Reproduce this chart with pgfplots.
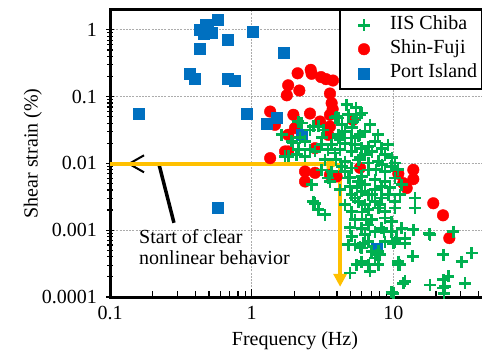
\documentclass[border=0pt]{standalone}
\usepackage{fontspec}
\setmainfont{Liberation Serif}
\usepackage{pgfplots}
\pgfplotsset{compat=1.18}
\usepackage{pgfplotstable}
\usetikzlibrary{arrows.meta}
\definecolor{cgreen}{HTML}{00B050}
\definecolor{cred}{HTML}{FF0000}
\definecolor{cblue}{HTML}{0070C0}
\definecolor{corange}{HTML}{FFC000}
\newcommand\ff{\fontsize{20bp}{24bp}\selectfont}

\pgfplotstableread{
x y
4.69 0.0754
5.98 0.0566
4.81 0.0534
4.09 0.0476
5.22 0.0423
2.25 0.0401
2.95 0.0357
2.58 0.0318
4.56 0.0300
4.09 0.0268
5.66 0.0253
1.92 0.0213
2.38 0.0213
3.12 0.0190
3.67 0.0190
4.56 0.0201
6.66 0.0179
2.13 0.0160
2.80 0.0151
3.88 0.0143
5.08 0.0151
6.31 0.0135
8.73 0.0135
1.81 0.0127
2.38 0.0127
5.66 0.0113
7.83 0.0107
9.75 0.0090
3.12 0.0080
5.08 0.0085
6.66 0.0080
8.73 0.00756
3.47 0.00602
4.81 0.00602
5.98 0.00637
7.43 0.00568
10.29 0.00602
2.65 0.00478
4.95 0.00451
6.31 0.00478
8.28 0.00451
5.08 0.00339
6.66 0.00339
9.21 0.00339
2.80 0.00254
5.66 0.00269
7.43 0.00269
10.29 0.00269
2.95 0.00202
3.29 0.00170
5.08 0.00190
6.66 0.00202
8.73 0.00190
5.37 0.00143
7.04 0.00143
9.75 0.00135
5.98 0.00107
7.43 0.000956
11.46 0.00107
5.08 0.000805
6.66 0.000677
10.29 0.000677
12.10 0.00076
7.83 0.00048
5.98 0.000539
7.43 0.000382
10.85 0.00034
5.98 0.00034
7.83 0.000304
4.95 0.000228
6.85 0.000241
10.0 0.000114
11.76 0.000161
10.85 0.000304
10.0 0.00064
13.84 0.001014
18.16 0.000854
26.5 0.000956
22.5 0.000429
30.4 0.00034
35.8 0.000454
18.16 0.000152
22.5 0.000181
24.4 0.000203
22.5 0.000136
32.1 0.000161
14.24 0.00302
14.24 0.00214
4.81 0.000605
5.82 0.00057
7.63 0.000429
5.51 0.000304
12.10 0.00064
11.15 0.000304
13.71 0.000404
6.14 0.00064
12.10 0.000171
9.75 0.000117
1.72 0.0127
2.08 0.0135
2.58 0.0160
2.65 0.00478
3.57 0.00536
2.72 0.00269
1.96 0.0203
1.63 0.0268
2.13 0.0423
2.72 0.0357
3.20 0.0318
3.98 0.0503
5.51 0.0476
5.82 0.0268
4.07 0.0242
2.19 0.0242
5.82 0.0534
3.88 0.0481
17.95 0.000883
10.57 0.00076
23.2 0.000144
22.8 0.000114
6.31 0.0300
7.43 0.0213
8.28 0.0169
5.08 0.0239
5.98 0.0169
4.56 0.01067
6.66 0.0101
10.29 0.0101
8.73 0.00536
11.46 0.00478
7.43 0.00402
5.98 0.0038
5.37 0.00302
7.83 0.00214
10.29 0.00214
5.66 0.00536
8.28 0.00302
6.31 0.0024
8.73 0.00152
6.66 0.0012
8.28 0.00107
9.75 0.000956
6.31 0.000854
8.73 0.000677
7.04 0.00048
5.37 0.000605
8.05 0.000429
6.66 0.000304
3.29 0.01132
4.32 0.00899
3.67 0.00756
4.34 0.0378
5.11 0.0341
6.85 0.0378
7.80 0.0268
9.17 0.0190
4.20 0.0160
5.37 0.0190
7.07 0.0149
9.79 0.01213
4.56 0.00748
5.82 0.01213
7.55 0.00802
10.8 0.00802
4.20 0.00402
5.54 0.00431
7.07 0.00339
9.48 0.00431
4.56 0.0024
6.01 0.00188
8.05 0.0024
11.15 0.00339
4.95 0.00109
6.41 0.00143
8.59 0.000946
4.20 0.02255
3.46 0.0160
3.14 0.0242
5.45 0.068
3.94 0.01132
4.95 0.00609
8.32 0.00953
}\chiba

\pgfplotstableread{
x y
2.11 0.2233
2.61 0.2518
2.65 0.2195
3.09 0.1959
3.35 0.1828
3.75 0.1742
1.81 0.1477
2.17 0.1234
1.77 0.1046
3.57 0.1113
3.67 0.0799
3.73 0.0650
1.35 0.0598
1.97 0.0534
2.58 0.0558
3.57 0.0534
3.04 0.0424
1.46 0.0378
2.02 0.0338
3.57 0.0357
3.47 0.0268
1.81 0.0268
1.72 0.0151
1.35 0.0120
2.80 0.0169
2.38 0.00756
2.80 0.00723
3.98 0.00637
2.38 0.00536
3.57 0.00675
10.85 0.00699
13.84 0.00802
13.84 0.00582
12.43 0.00427
19.16 0.00253
22.44 0.00167
24.85 0.000762
11.76 0.00507
1.81 0.0151
5.82 0.00859
5.19 0.0449
}\shinfuji

\pgfplotstableread{
x y
0.575 1.41
0.476 1.19
0.431 1.02
0.522 0.893
0.460 0.863
0.677 0.708
0.427 0.519
0.362 0.2195
0.393 0.185
0.677 0.185
0.754 0.174
1.017 0.943
1.67 0.448
0.158 0.0547
0.922 0.0547
1.51 0.049
1.276 0.0388
0.492 1.07
0.575 0.00219
7.63 0.000527
2.27 0.0268
}\port

\begin{document}
\begin{tikzpicture}
\begin{axis}[
  at={(0,0)}, anchor=south west,
  scale only axis, width=375.7bp, height=287.3bp,
  xmode=log, ymode=log,
  xmin=0.1, xmax=45, ymin=1e-4, ymax=2,
  xtick={0.1,1,10}, xticklabels={0.1,1,10},
  ytick={0.0001,0.001,0.01,0.1,1}, yticklabels={0.0001,0.001,0.01,0.1,1},
  minor xtick={0.2,0.3,0.4,0.5,0.6,0.7,0.8,0.9,2,3,4,5,6,7,8,9,20,30,40},
  minor ytick={},
  xtick pos=left, ytick pos=left,
  xtick align=inside, ytick align=center,
  major tick length=8bp, minor tick length=6bp,
  tick style={black, line width=1.2bp},
  xmajorgrids, ymajorgrids,
  major grid style={gray!65, line width=1bp, dash pattern=on 2bp off 1.2bp},
  axis line style={line width=3bp},
  /pgf/number format/assume math mode=true,
  tick label style={font=\ff},
  yticklabel style={anchor=east, inner sep=0bp, xshift=-9bp},
  xticklabel style={anchor=north, inner sep=0bp, yshift=-9bp},
  label style={font=\ff},
  xlabel={Frequency (Hz)},
  ylabel={Shear strain (\%)},
  xlabel style={at={(axis description cs:0.492,-0.1671)}, anchor=base},
  ylabel style={at={(axis description cs:-0.1932,0.5)}, anchor=base},
  clip=false,
  legend image code/.code={\path[draw=none, fill=none] (0bp,-1bp) rectangle (40bp,1bp); \draw[#1] plot coordinates {(20bp,0bp)};},
  legend cell align=left,
  legend style={at={(axis cs:4.204,2)}, anchor=north west, draw=black, line width=1.8bp,
    font=\ff, inner xsep=4bp, inner ysep=5bp, outer sep=0bp,
    nodes={inner sep=1bp, text height=14bp, text depth=5bp},
    row sep=3bp, column sep=5bp},
]
\addlegendimage{only marks, mark=+, cgreen, mark size=6bp, mark options={line width=2.7bp}}
\addlegendentry{IIS Chiba}
\addlegendimage{only marks, mark=*, mark size=5.8bp, mark options={draw=cred, fill=cred, line width=0.4bp}}
\addlegendentry{Shin-Fuji}
\addlegendimage{only marks, mark=square*, mark size=5.5bp, mark options={draw=cblue, fill=cblue, line width=0.4bp}}
\addlegendentry{Port Island\hspace{10bp}}

\addplot[only marks, mark=*, mark size=5.8bp, mark options={draw=cred, fill=cred, line width=0.4bp}, forget plot] table {\shinfuji};
\addplot[only marks, mark=square*, mark size=5.5bp, mark options={draw=cblue, fill=cblue, line width=0.4bp}, forget plot] table {\port};
\addplot[only marks, mark=+, mark size=6bp, cgreen, mark options={line width=2.7bp}, forget plot] table {\chiba};

\draw[black, line width=3.5bp, -{Straight Barb[length=15bp, width=17bp, line width=2bp]}]
  (axis cs:0.2825,0.00129) -- (axis cs:0.221,0.00986) -- (axis cs:0.1316,0.00986);
\draw[corange, line width=3.5bp, -{Triangle[length=13bp, width=12bp]}]
  (axis cs:0.1,0.00976) -- (axis cs:4.17,0.00976);
\draw[corange, line width=3.5bp, -{Triangle[length=13bp, width=13bp]}]
  (axis cs:4.21,0.0103) -- (axis cs:4.21,0.000142);
\node[anchor=base west, font=\ff, inner sep=0bp] at (axis cs:0.16,0.000626) {Start of clear};
\node[anchor=base west, font=\ff, inner sep=0bp] at (axis cs:0.16,0.000303) {nonlinear behavior};
\end{axis}
\pgfresetboundingbox
\useasboundingbox (-110.1bp,-57bp) rectangle (371.9bp,297bp);
\end{tikzpicture}
\end{document}
